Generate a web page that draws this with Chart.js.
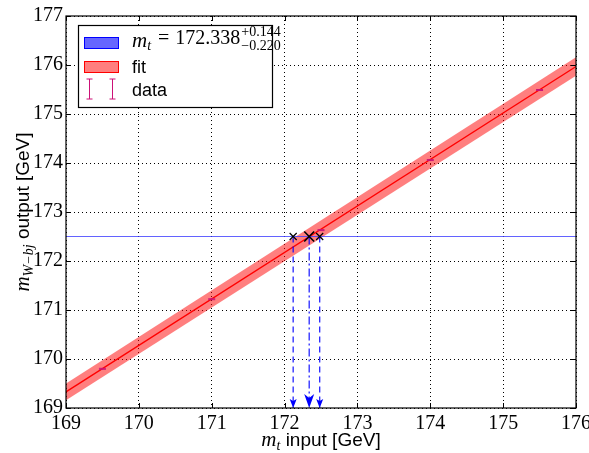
<!DOCTYPE html>
<html>
<head>
<meta charset="utf-8">
<script src="https://cdn.jsdelivr.net/npm/chart.js@4/dist/chart.umd.min.js"></script>
<style>
  body { margin: 0; background: #fff; }
  #wrap { width: 589px; height: 453px; }
</style>
</head>
<body>
<div id="wrap"><canvas id="c"></canvas></div>
<script>
// fit line and its band, evaluated at the two ends of the x range
const fitX = [169, 176];
const fitY = [169.33, 175.97];
const bandUp = [169.50, 176.16];
const bandLo = [169.16, 175.78];

// calibration points (input vs output) with their small errors
const dataX = [169.5, 171, 172.5, 174, 175.5];
const dataY = [169.80, 171.22, 172.63, 174.06, 175.49];
const dataErr = [0.01, 0.01, 0.01, 0.01, 0.01];

// measured output value and the extracted mass
const target = 172.5;
const mtVals = [172.118, 172.338, 172.482];   // low, central, high
const yMin = 169, yMax = 177;
const xMin = 169, xMax = 176;

const pts = (xs, ys) => xs.map((x, i) => ({ x: x, y: ys[i] }));

const ctx = document.getElementById('c').getContext('2d');

const arrowSets = mtVals.map((x, i) => ({
  data: [{ x: x, y: target }, { x: x, y: yMin }],
  showLine: true,
  borderColor: 'rgba(0,0,255,0.85)',
  borderWidth: 1.3,
  borderDash: i === 1 ? [8, 3, 2, 3] : [6, 4],
  pointRadius: 0,
  fill: false,
  order: 3
}));

// draws a mix of italic math and plain text, left to right
function drawParts(c, parts, x, y) {
  parts.forEach(p => {
    c.font = p.f;
    c.fillText(p.t, x + (p.dx || 0), y + (p.dy || 0));
    x += c.measureText(p.t).width + (p.dx || 0);
  });
}
function partsWidth(c, parts) {
  let w = 0;
  parts.forEach(p => { c.font = p.f; w += c.measureText(p.t).width + (p.dx || 0); });
  return w;
}

const extras = {
  id: 'extras',
  afterDatasetsDraw(chart) {
    const c = chart.ctx;
    const xs = chart.scales.x, ys = chart.scales.y;
    const a = chart.chartArea;
    c.save();

    // error bars for the data points
    c.strokeStyle = '#cc1177';
    c.lineWidth = 1;
    dataX.forEach((x, i) => {
      const px = xs.getPixelForValue(x);
      const y1 = ys.getPixelForValue(dataY[i] + dataErr[i]);
      const y2 = ys.getPixelForValue(dataY[i] - dataErr[i]);
      c.beginPath();
      c.moveTo(px, y1); c.lineTo(px, y2);
      c.moveTo(px - 3.5, y1); c.lineTo(px + 3.5, y1);
      c.moveTo(px - 3.5, y2); c.lineTo(px + 3.5, y2);
      c.stroke();
    });

    // arrow heads at the bottom of the dashed lines
    c.fillStyle = 'rgb(0,0,255)';
    mtVals.forEach((x, i) => {
      const px = xs.getPixelForValue(x);
      const py = ys.getPixelForValue(yMin);
      const w = i === 1 ? 5 : 3.5, h = i === 1 ? 14 : 9, n = i === 1 ? 4 : 2;
      c.beginPath();
      c.moveTo(px, py);
      c.lineTo(px - w, py - h);
      c.lineTo(px, py - h + n);
      c.lineTo(px + w, py - h);
      c.closePath();
      c.fill();
    });

    // inward ticks on all four sides
    c.strokeStyle = '#000';
    c.lineWidth = 1;
    c.beginPath();
    for (let v = xMin; v <= xMax; v++) {
      const px = Math.round(xs.getPixelForValue(v)) + 0.5;
      c.moveTo(px, a.bottom); c.lineTo(px, a.bottom - 5);
      c.moveTo(px, a.top); c.lineTo(px, a.top + 5);
    }
    for (let v = yMin; v <= yMax; v++) {
      const py = Math.round(ys.getPixelForValue(v)) + 0.5;
      c.moveTo(a.left, py); c.lineTo(a.left + 5, py);
      c.moveTo(a.right, py); c.lineTo(a.right - 5, py);
    }
    c.stroke();

    // frame
    c.lineWidth = 1.2;
    c.strokeRect(a.left, a.top, a.right - a.left, a.bottom - a.top);

    // legend box
    const lx = 78, ly = 25, lw = 194, lh = 82;
    c.fillStyle = '#fff';
    c.fillRect(lx, ly, lw, lh);
    c.lineWidth = 1.2;
    c.strokeRect(lx + 0.5, ly + 0.5, lw, lh);

    c.fillStyle = 'rgba(0,0,255,0.6)';
    c.fillRect(84, 37, 35, 12);
    c.strokeStyle = 'rgb(0,0,255)';
    c.lineWidth = 1;
    c.strokeRect(84.5, 37.5, 34, 11);

    c.fillStyle = 'rgba(255,0,0,0.5)';
    c.fillRect(84, 61, 35, 12);
    c.strokeStyle = 'rgb(255,0,0)';
    c.strokeRect(84.5, 61.5, 34, 11);

    c.strokeStyle = '#cc1177';
    [89.5, 112.5].forEach(px => {
      c.beginPath();
      c.moveTo(px, 79); c.lineTo(px, 99);
      c.moveTo(px - 3, 79); c.lineTo(px + 3, 79);
      c.moveTo(px - 3, 99); c.lineTo(px + 3, 99);
      c.stroke();
    });

    c.fillStyle = '#000';
    c.textBaseline = 'alphabetic';
    c.textAlign = 'left';
    const serifI = s => 'italic ' + s + 'px "Liberation Serif"';
    const serif = s => s + 'px "Liberation Serif"';
    const sans = s => s + 'px "Liberation Sans"';

    const mtParts = [
      { t: 'm', f: serifI(21) },
      { t: 't', f: serifI(14), dy: 3 },
      { t: '=', f: serif(20), dx: 7, dy: -3 },
      { t: '172.338', f: serif(20), dx: 6, dy: -3 }
    ];
    drawParts(c, mtParts, 132, 47);
    const supX = 132 + partsWidth(c, mtParts) + 1;
    c.font = serif(14);
    c.fillText('+0.144', supX, 36);
    c.fillText('\u22120.220', supX, 50);

    c.font = sans(18);
    c.fillText('fit', 132, 73);
    c.fillText('data', 132, 96);

    // x axis title
    const xt = [
      { t: 'm', f: serifI(21) },
      { t: 't', f: serifI(14), dy: 4 },
      { t: ' input [GeV]', f: sans(19) }
    ];
    drawParts(c, xt, (a.left + a.right) / 2 - partsWidth(c, xt) / 2, 446);

    // y axis title (rotated)
    c.save();
    c.translate(29, (a.top + a.bottom) / 2);
    c.rotate(-Math.PI / 2);
    const yt = [
      { t: 'm', f: serifI(21) },
      { t: 'W\u2212bj', f: serifI(14), dy: 4 },
      { t: ' output [GeV]', f: sans(19) }
    ];
    drawParts(c, yt, -partsWidth(c, yt) / 2, 0);
    c.restore();

    c.restore();
  }
};

new Chart(ctx, {
  type: 'scatter',
  data: {
    datasets: [
      {
        data: pts(fitX, bandLo),
        showLine: true,
        borderWidth: 0,
        borderColor: 'rgba(0,0,0,0)',
        pointRadius: 0,
        fill: false,
        order: 6
      },
      {
        data: pts(fitX, bandUp),
        showLine: true,
        borderWidth: 0,
        borderColor: 'rgba(0,0,0,0)',
        backgroundColor: 'rgba(255,0,0,0.5)',
        pointRadius: 0,
        fill: '-1',
        order: 6
      },
      {
        data: pts(fitX, fitY),
        showLine: true,
        borderColor: 'rgb(255,0,0)',
        borderWidth: 1.3,
        pointRadius: 0,
        fill: false,
        order: 5
      },
      {
        data: [{ x: xMin, y: target }, { x: xMax, y: target }],
        showLine: true,
        borderColor: 'rgba(60,60,255,0.8)',
        borderWidth: 1,
        pointRadius: 0,
        fill: false,
        order: 4
      },
      ...arrowSets,
      {
        data: mtVals.map(x => ({ x: x, y: target })),
        pointStyle: 'crossRot',
        pointRadius: [5, 7, 5],
        pointBorderColor: '#000',
        pointBorderWidth: [1.2, 1.6, 1.2],
        showLine: false,
        order: 1
      }
    ]
  },
  options: {
    responsive: true,
    maintainAspectRatio: false,
    animation: false,
    layout: { padding: { top: 16, right: 13, left: 0, bottom: 0 } },
    plugins: {
      legend: { display: false },
      tooltip: { enabled: false }
    },
    scales: {
      x: {
        type: 'linear',
        min: xMin,
        max: xMax,
        afterFit: s => { s.height = 45; s.paddingRight = 0; s.paddingLeft = 0; },
        ticks: {
          stepSize: 1,
          padding: 4,
          color: '#000',
          font: { family: '"Liberation Serif"', size: 20 }
        },
        grid: { color: '#000', lineWidth: 1, drawTicks: false },
        border: { display: false, dash: [1, 3] }
      },
      y: {
        type: 'linear',
        min: yMin,
        max: yMax,
        afterFit: s => { s.width = 66; s.paddingTop = 0; s.paddingBottom = 0; },
        ticks: {
          stepSize: 1,
          padding: 3,
          color: '#000',
          font: { family: '"Liberation Serif"', size: 20 }
        },
        grid: { color: '#000', lineWidth: 1, drawTicks: false },
        border: { display: false, dash: [1, 3] }
      }
    }
  },
  plugins: [extras]
});
</script>
</body>
</html>
